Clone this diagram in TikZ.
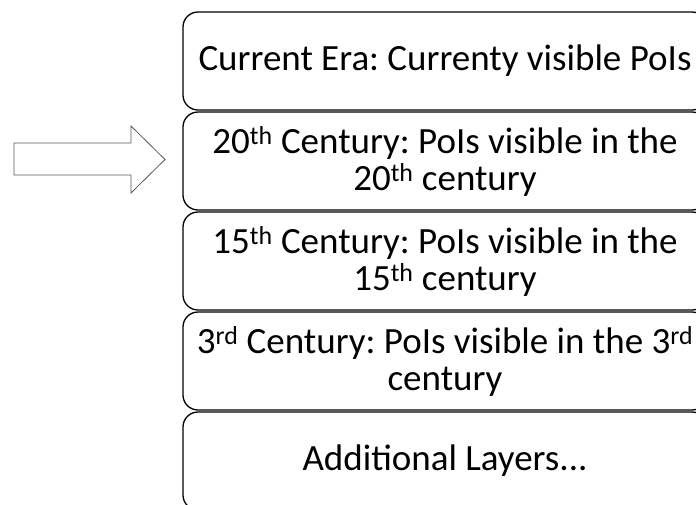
\documentclass[tikz,border=0pt]{standalone}
\usepackage{fontspec}
\setmainfont{Carlito}
\usetikzlibrary{positioning}
\frenchspacing

\begin{document}
\begin{tikzpicture}
[x=1pt, y=-1pt, node distance = 0.7pt,
layer/.style={draw, line width=1.3pt, rounded corners=15pt, minimum width=524pt, minimum height=98pt, align=center, inner sep=0pt, font=\fontsize{37}{37}\selectfont}]
\useasboundingbox (0,0) rectangle (696,504);

\node[layer] (l1) at (445,61) {Current Era: Currenty visible PoIs};
\node[layer] (l2)[below=of l1] {20\textsuperscript{th} Century: PoIs visible in the\\20\textsuperscript{th} century};
\node[layer] (l3)[below=of l2] {15\textsuperscript{th} Century: PoIs visible in the\\15\textsuperscript{th} century};
\node[layer] (l4)[below=of l3] {3\textsuperscript{rd} Century: PoIs visible in the 3\textsuperscript{rd}\\century};
\node[layer] (l5)[below=of l4] {Additional Layers...};

% block arrow pointing at the second layer
\draw[gray!70!black, line width=0.8pt] (14,143) -- (131,143) -- (131,126) -- (165,159.5) -- (131,193) -- (131,175) -- (14,175) -- cycle;
\end{tikzpicture}
\end{document}
